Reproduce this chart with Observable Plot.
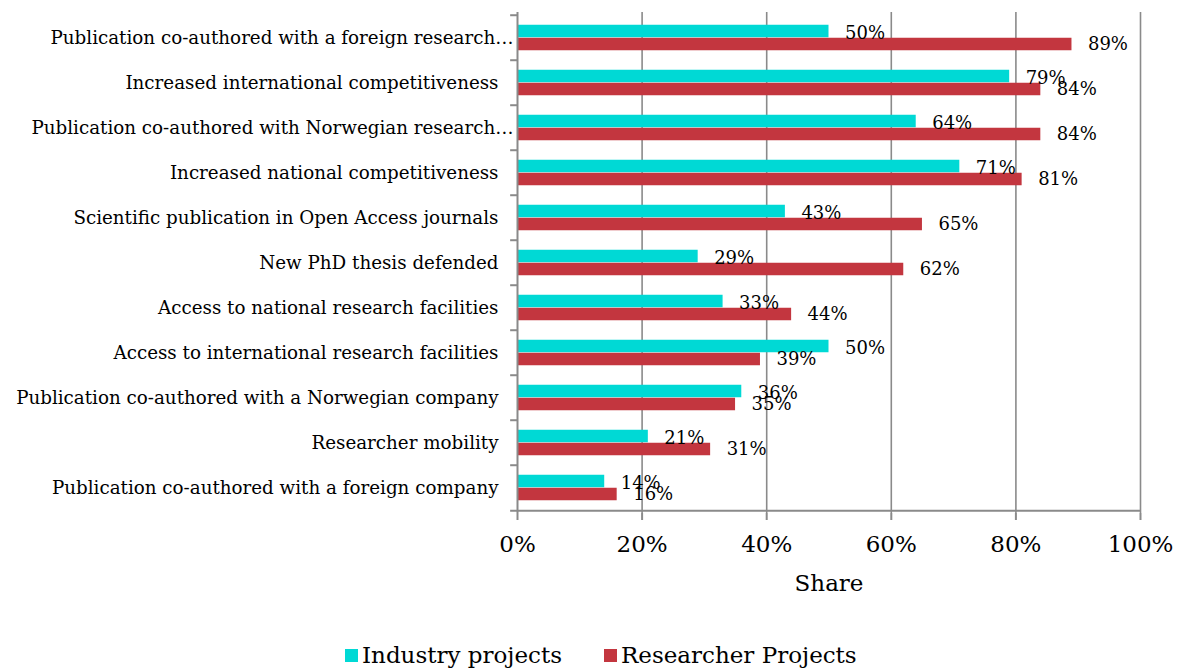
<!DOCTYPE html>
<html>
<head>
<meta charset="utf-8">
<script src="https://cdn.jsdelivr.net/npm/d3@7"></script>
<script src="https://cdn.jsdelivr.net/npm/@observablehq/plot@0.6"></script>
<style>
  html, body { margin: 0; padding: 0; background: #fff; }
  #chart svg { display: block; }
  .legend { height: 48px; display: flex; align-items: center; padding-left: 345px; margin-top: 11px;
            font-family: "DejaVu Serif", serif; font-size: 23px; color: #000; }
  .legend .item { display: flex; align-items: center; margin-right: 42px; }
  .legend .sw { width: 13px; height: 13px; margin-right: 4px; }
</style>
</head>
<body>
<div id="chart"></div>
<script>
const categories = [
  "Publication co-authored with a foreign research…",
  "Increased international competitiveness",
  "Publication co-authored with Norwegian research…",
  "Increased national competitiveness",
  "Scientific publication in Open Access journals",
  "New PhD thesis defended",
  "Access to national research facilities",
  "Access to international research facilities",
  "Publication co-authored with a Norwegian company",
  "Researcher mobility",
  "Publication co-authored with a foreign company"
];
const seriesNames = ["Industry projects", "Researcher Projects"];
const industry   = [50, 79, 64, 71, 43, 29, 33, 50, 36, 21, 14];
const researcher = [89, 84, 84, 81, 65, 62, 44, 39, 35, 31, 16];
const xTicks = [0, 20, 40, 60, 80, 100];

const colors = ["#00D9D5", "#C3363F"];
const rows = categories.map((cat, i) => ({cat, industry: industry[i], researcher: researcher[i]}));
const truncated = categories.filter(c => c.endsWith("…"));
const normal = categories.filter(c => !c.endsWith("…"));

const font = "DejaVu Serif";
const grid = "#8a8a8a";
const step = (513 - 12) / categories.length;

const chart = Plot.plot({
  width: 1179,
  height: 620,
  marginTop: 12,
  marginBottom: 107,
  marginLeft: 517,
  marginRight: 39,
  style: {fontFamily: font, color: "#000", background: "#fff"},
  x: {domain: [0, 100]},
  y: {domain: categories, padding: 0},
  marks: [
    Plot.gridX(xTicks.slice(1), {stroke: grid, strokeOpacity: 1, strokeWidth: 1.6}),
    Plot.barX(rows, {x: "industry", y: "cat", fill: colors[0], insetTop: 9.75, insetBottom: 22.75}),
    Plot.barX(rows, {x: "researcher", y: "cat", fill: colors[1], insetTop: 22.75, insetBottom: 9.75}),
    Plot.text(rows, {x: "industry", y: "cat", text: d => d.industry + "%", textAnchor: "start",
      dx: 16, dy: -5, fontSize: 18, fill: "#000"}),
    Plot.text(rows, {x: "researcher", y: "cat", text: d => d.researcher + "%", textAnchor: "start",
      dx: 16, dy: 6, fontSize: 18, fill: "#000"}),
    Plot.ruleX([0], {stroke: grid, strokeWidth: 2}),
    Plot.ruleY(categories, {y: d => d, x1: -1.1, x2: 0, dy: -step / 2, stroke: grid, strokeWidth: 2}),
    Plot.ruleY([categories[categories.length - 1]], {y: d => d, x1: -1.1, x2: 100, dy: step / 2, stroke: grid, strokeWidth: 2}),
    Plot.axisY({ticks: normal, tickSize: 0, tickPadding: 19, fontSize: 18.3, label: null}),
    Plot.axisY({ticks: truncated, tickSize: 0, tickPadding: 4, fontSize: 18.3, label: null}),
    Plot.axisX({ticks: xTicks, tickFormat: d => d + "%", tickSize: 7, tickPadding: 15, fontSize: 23,
      stroke: grid, strokeWidth: 2, label: "Share", labelAnchor: "center", labelArrow: "none", labelOffset: 77})
  ]
});
document.getElementById("chart").appendChild(chart);

const legend = document.createElement("div");
legend.className = "legend";
seriesNames.forEach((name, i) => {
  const item = document.createElement("div");
  item.className = "item";
  const sw = document.createElement("span");
  sw.className = "sw";
  sw.style.background = colors[i];
  const t = document.createElement("span");
  t.textContent = name;
  item.appendChild(sw);
  item.appendChild(t);
  legend.appendChild(item);
});
document.body.appendChild(legend);
</script>
</body>
</html>
